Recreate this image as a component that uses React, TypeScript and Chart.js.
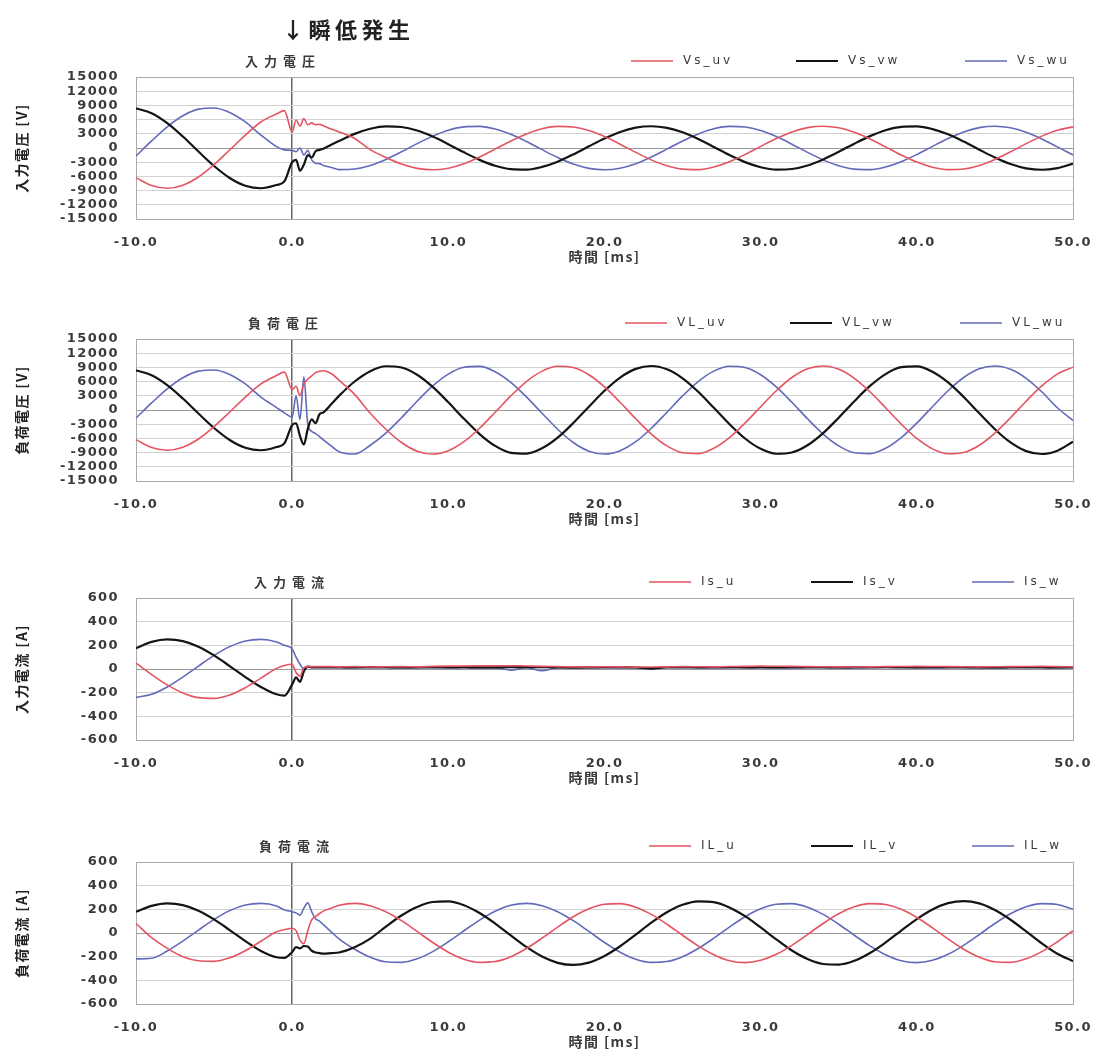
import React, { useEffect, useRef } from "react";
import { Chart, registerables } from "chart.js";

Chart.register(...registerables);

// ---------- data (time in ms) ----------
const timeMs = [
  -10, -9, -8, -7, -6, -5, -4, -3, -2, -1, -0.5,
  0, 0.25, 0.5, 0.75, 1, 1.25, 1.5, 1.75, 2, 2.5,
  3, 4, 5, 6, 7, 8, 9, 10, 11, 12, 13, 14, 15, 16, 17, 18, 19, 20, 21, 22, 23, 24, 25, 26,
  27, 28, 29, 30, 31, 32, 33, 34, 35, 36, 37, 38, 39, 40, 41, 42, 43, 44, 45, 46, 47, 48, 49, 50,
];

// 入力電圧 [V]
const vsUv = [
  -6270, -7940, -8500, -7860, -6120, -3520, -430, 2730, 5500, 7200, 7900,
  3400, 5900, 4600, 6200, 4900, 5300, 4900, 5000, 4700, 4000,
  3400, 2000, -350, -2010, -3390, -4300, -4600, -4260, -3310, -1910, -230, 1480, 2980, 4060, 4570, 4440,
  3690, 2420, 810, -920, -2510, -3760, -4470, -4560, -4000, -2890, -1370, 350, 2010, 3390, 4300, 4600,
  4260, 3310, 1910, 230, -1480, -2980, -4060, -4570, -4440, -3690, -2420, -810, 920, 2510, 3760, 4470,
];
const vsVw = [
  8400, 7340, 5250, 2420, -750, -3810, -6340, -7980, -8500, -7820, -7060,
  -3000, -2500, -4800, -3500, -1500, -2000, -700, -400, -150, 700,
  1480, 2980, 4060, 4570, 4440, 3690, 2420, 810, -920, -2510, -3760, -4470, -4560, -4000, -2890, -1370,
  350, 2010, 3390, 4300, 4600, 4260, 3310, 1910, 230, -1480, -2980, -4060, -4570, -4440, -3690, -2420,
  -810, 920, 2510, 3760, 4470, 4560, 4000, 2890, 1370, -350, -2010, -3390, -4300, -4600, -4260, -3310,
];
const vsWu = [
  -1700, 1490, 4460, 6810, 8210, 8450, 7500, 5500, 2730, 300, -400,
  -500, -800, 0, -1500, -500, -2500, -3200, -3300, -3700, -4100,
  -4570, -4440, -3690, -2420, -810, 920, 2510, 3760, 4470, 4560, 4000, 2890, 1370, -350, -2010, -3390,
  -4300, -4600, -4260, -3310, -1910, -230, 1480, 2980, 4060, 4570, 4440, 3690, 2420, 810, -920, -2510,
  -3760, -4470, -4560, -4000, -2890, -1370, 350, 2010, 3390, 4300, 4600, 4260, 3310, 1910, 230, -1480,
];

// 負荷電圧 [V]
const vlUv = [
  -6270, -7940, -8500, -7860, -6120, -3520, -430, 2730, 5500, 7300, 8000,
  4300, 5000, 3000, 5500, 6500, 7200, 7900, 8200, 8300, 7700,
  6300, 3300, -700, -4060, -6860, -8690, -9300, -8600, -6700, -3850, -470, 2980, 6020, 8210, 9240, 8980,
  7450, 4880, 1630, -1860, -5080, -7590, -9040, -9210, -8090, -5840, -2760, 700, 4060, 6860, 8690, 9300,
  8600, 6700, 3850, 470, -2980, -6020, -8210, -9240, -8980, -7450, -4880, -1630, 1860, 5080, 7590, 9040,
];
const vlVw = [
  8400, 7340, 5250, 2420, -750, -3810, -6340, -7980, -8500, -7820, -7060,
  -3200, -2800, -5500, -7300, -4000, -2000, -2800, -900, -500, 1200,
  2980, 6020, 8210, 9240, 8980, 7450, 4880, 1630, -1860, -5080, -7590, -9040, -9210, -8090, -5840, -2760,
  700, 4060, 6860, 8690, 9300, 8600, 6700, 3850, 470, -2980, -6020, -8210, -9240, -8980, -7450, -4880,
  -1630, 1860, 5080, 7590, 9040, 9210, 8090, 5840, 2760, -700, -4060, -6860, -8690, -9300, -8600, -6700,
];
const vlWu = [
  -1700, 1490, 4460, 6810, 8210, 8450, 7500, 5500, 2730, 500, -600,
  -1500, 3000, -2000, 7000, -3000, -4500, -5000, -5600, -6300, -7600,
  -8800, -9300, -7450, -4880, -1630, 1860, 5080, 7590, 9040, 9210, 8090, 5840, 2760, -700, -4060, -6860,
  -8690, -9300, -8600, -6700, -3850, -470, 2980, 6020, 8210, 9240, 8980, 7450, 4880, 1630, -1860, -5080,
  -7590, -9040, -9210, -8090, -5840, -2760, 700, 4060, 6860, 8690, 9300, 8600, 6700, 3850, 470, -2200,
];

// 入力電流 [A]
const isU = [
  50, -47, -134, -202, -242, -248, -219, -159, -77, 5, 30,
  40, -30, -60, 10, 20, 20, 20, 20, 20, 20,
  18, 20, 17, 19, 20, 18, 22, 24, 25, 26, 27, 28, 25, 22, 20, 18,
  17, 19, 18, 16, 17, 18, 20, 19, 18, 21, 22, 24, 23, 22, 20, 19,
  18, 17, 18, 20, 21, 22, 21, 20, 19, 18, 19, 20, 21, 22, 20, 19,
];
const isV = [
  176, 229, 250, 236, 189, 115, 25, -68, -152, -214, -225,
  -130, -70, -110, -20, 20, 15, 15, 15, 15, 15,
  15, 14, 16, 15, 13, 15, 16, 14, 15, 13, 14, 15, 16, 15, 14, 12,
  13, 15, 16, 14, 3, 15, 16, 14, 15, 16, 14, 15, 13, 15, 16, 15,
  14, 15, 16, 17, 15, 14, 15, 16, 15, 14, 13, 15, 16, 15, 14, 15,
];
const isW = [
  -240, -214, -152, -68, 25, 115, 189, 236, 250, 229, 200,
  170, 100, 40, 0, 20, 10, 10, 10, 10, 10,
  12, 10, 11, 12, 10, 9, 11, 12, 10, 8, 9, -10, 12, -15, 10, 11,
  12, 10, 9, 11, 10, 12, 11, 10, 9, 10, 11, 12, 10, 9, 10, 11,
  10, 9, 10, 11, 12, 10, 9, 10, 11, 10, 9, 10, 11, 10, 9, 10,
];

// 負荷電流 [A]
const ilU = [
  80, -40, -130, -200, -235, -240, -210, -150, -70, 10, 28,
  40, 20, -60, -90, 20, 110, 140, 165, 185, 210,
  234, 250, 231, 180, 104, 13, -80, -162, -221, -248, -241, -200, -131, -44, 50, 137,
  204, 243, 248, 218, 157, 74, -19, -109, -184, -234, -250, -231, -180, -104, -13, 80,
  162, 221, 248, 241, 200, 131, 44, -50, -137, -204, -243, -248, -218, -157, -74, 19,
];
const ilV = [
  179, 229, 250, 236, 189, 115, 25, -68, -152, -205, -210,
  -160, -120, -130, -110, -115, -150, -165, -170, -175, -170,
  -165, -120, -47, 54, 148, 220, 262, 267, 235, 169, 80, -20, -118, -199, -252, -270,
  -250, -194, -112, -14, 87, 175, 238, 268, 261, 216, 142, 47, -54, -148, -220, -262,
  -267, -235, -169, -80, 20, 118, 199, 252, 270, 250, 194, 112, 14, -87, -175, -238,
];
const ilW = [
  -219, -214, -152, -68, 25, 115, 189, 236, 250, 229, 195,
  180, 170, 150, 210, 255, 180, 120, 100, 70, 10,
  -50, -137, -204, -243, -248, -218, -157, -74, 19, 109, 184, 234, 250, 231, 180, 104,
  13, -80, -162, -221, -248, -241, -200, -131, -44, 50, 137, 204, 243, 248, 218, 157,
  74, -19, -109, -184, -234, -250, -231, -180, -104, -13, 80, 162, 221, 248, 241, 200,
];

const vsLabels = ["Vs_uv", "Vs_vw", "Vs_wu"];
const vlLabels = ["VL_uv", "VL_vw", "VL_wu"];
const isLabels = ["Is_u", "Is_v", "Is_w"];
const ilLabels = ["IL_u", "IL_v", "IL_w"];
const panelTitles = ["入力電圧", "負荷電圧", "入力電流", "負荷電流"];
const yTitles = ["入力電圧 [V]", "負荷電圧 [V]", "入力電流 [A]", "負荷電流 [A]"];
const xTitle = "時間 [ms]";
const eventNote = "↓瞬低発生";

// ---------- styling ----------
const COLORS = ["rgb(228,84,98)", "rgb(20,20,20)", "rgb(98,106,186)"];
const WIDTHS = [1.6, 2.2, 1.6];
const NUM_FONT = "'DejaVu Sans', 'Noto Sans CJK JP', sans-serif";
const JP_FONT = "'Noto Sans CJK JP', 'DejaVu Sans', sans-serif";
const TEXT = "#3a3a3a";
const BASE_SPACING = "1.4px";

const decorPlugin: any = {
  id: "panelDecor",
  beforeUpdate(chart: any) {
    chart.ctx.letterSpacing = BASE_SPACING;
  },
  beforeDraw(chart: any) {
    chart.ctx.letterSpacing = BASE_SPACING;
  },
  afterDraw(chart: any, _args: any, opts: any) {
    const ctx = chart.ctx;
    const area = chart.chartArea;
    ctx.save();
    const y = area.top - 16;
    // panel title
    ctx.letterSpacing = "6px";
    ctx.font = `bold 13px ${JP_FONT}`;
    ctx.fillStyle = TEXT;
    ctx.textAlign = "center";
    ctx.textBaseline = "middle";
    ctx.fillText(opts.title, opts.titleX, y);
    // legend
    ctx.letterSpacing = "3px";
    ctx.font = `12px ${NUM_FONT}`;
    ctx.textAlign = "left";
    chart.data.datasets.forEach((ds: any, i: number) => {
      const x = opts.legendX[i];
      ctx.strokeStyle = ds.borderColor;
      ctx.lineWidth = ds.borderWidth;
      ctx.beginPath();
      ctx.moveTo(x, y);
      ctx.lineTo(x + 42, y);
      ctx.stroke();
      ctx.fillText(ds.label, x + 52, y);
    });
    // event annotation
    if (opts.note) {
      ctx.letterSpacing = "4.5px";
      ctx.font = `bold 22px ${JP_FONT}`;
      ctx.fillStyle = "#222";
      ctx.textAlign = "left";
      ctx.fillText(opts.note, 282, 30);
    }
    ctx.restore();
  },
};

type PanelProps = {
  top: number;
  series: number[][];
  labels: string[];
  title: string;
  titleX: number;
  yTitle: string;
  yMin: number;
  yMax: number;
  yStep: number;
  legendX: number[];
  note?: string;
};

function Panel(p: PanelProps) {
  const ref = useRef<HTMLCanvasElement | null>(null);
  useEffect(() => {
    if (!ref.current) return;
    const tickFont = { family: NUM_FONT, size: 13, weight: "bold" };
    const chart = new Chart(ref.current, {
      type: "line",
      data: {
        datasets: p.series.map((vals, i) => ({
          label: p.labels[i],
          data: timeMs.map((t, j) => ({ x: t, y: vals[j] })),
          borderColor: COLORS[i],
          borderWidth: WIDTHS[i],
          pointRadius: 0,
          fill: false,
          cubicInterpolationMode: "monotone",
        })),
      },
      options: {
        responsive: false,
        animation: false,
        devicePixelRatio: 1,
        events: [],
        layout: { padding: { top: 77, right: 25, bottom: 0, left: 0 } },
        plugins: {
          legend: { display: false },
          title: { display: false },
          tooltip: { enabled: false },
          panelDecor: { title: p.title, titleX: p.titleX, legendX: p.legendX, note: p.note || "" },
        } as any,
        scales: {
          x: {
            type: "linear",
            min: -10,
            max: 50,
            ticks: {
              stepSize: 10,
              autoSkip: false,
              maxRotation: 0,
              padding: 16,
              color: TEXT,
              font: tickFont,
              callback: (v: any) => Number(v).toFixed(1),
            },
            grid: {
              drawTicks: false,
              color: (c: any) =>
                c.tick && c.tick.value === 0 ? "#666" : c.tick && c.tick.value === 50 ? "#aaa" : "rgba(0,0,0,0)",
              lineWidth: (c: any) => (c.tick && c.tick.value === 0 ? 1.5 : 1),
            },
            border: { display: true, color: "#aaa" },
            title: {
              display: true,
              text: xTitle,
              color: TEXT,
              font: { family: JP_FONT, size: 14, weight: "bold", lineHeight: 1 },
              padding: { top: 0, bottom: 0 },
            },
            afterFit: (s: any) => {
              s.height = 45;
              s.paddingLeft = 0;
              s.paddingRight = 0;
            },
          },
          y: {
            type: "linear",
            min: p.yMin,
            max: p.yMax,
            ticks: {
              stepSize: p.yStep,
              autoSkip: false,
              padding: 17,
              color: TEXT,
              font: tickFont,
              callback: (v: any) => String(v),
            },
            grid: {
              drawTicks: false,
              color: (c: any) => {
                const v = c.tick ? c.tick.value : 1;
                if (v === 0) return "#999";
                if (Math.abs(v) === p.yMax) return "#aaa";
                return "#d2d2d2";
              },
            },
            border: { display: true, color: "#aaa" },
            title: {
              display: true,
              text: p.yTitle,
              color: "#222",
              font: { family: JP_FONT, size: 14, weight: "bold", lineHeight: 1 },
              padding: { top: 15, bottom: 0 },
            },
            afterFit: (s: any) => {
              s.width = 136;
            },
          },
        },
      } as any,
      plugins: [decorPlugin],
    });
    return () => chart.destroy();
  }, []);
  return (
    <canvas
      ref={ref}
      width={1098}
      height={264}
      style={{ position: "absolute", left: 0, top: p.top, width: 1098, height: 264 }}
    />
  );
}

export default function App() {
  return (
    <div style={{ position: "absolute", left: 0, top: 0, width: 1098, height: 1055, background: "#fff", overflow: "hidden" }}>
      <Panel top={0} series={[vsUv, vsVw, vsWu]} labels={vsLabels} title={panelTitles[0]} titleX={283}
        yTitle={yTitles[0]} yMin={-15000} yMax={15000} yStep={3000} legendX={[631, 796, 965]} note={eventNote} />
      <Panel top={262} series={[vlUv, vlVw, vlWu]} labels={vlLabels} title={panelTitles[1]} titleX={286}
        yTitle={yTitles[1]} yMin={-15000} yMax={15000} yStep={3000} legendX={[625, 790, 960]} />
      <Panel top={521} series={[isU, isV, isW]} labels={isLabels} title={panelTitles[2]} titleX={292}
        yTitle={yTitles[2]} yMin={-600} yMax={600} yStep={200} legendX={[649, 811, 972]} />
      <Panel top={785} series={[ilU, ilV, ilW]} labels={ilLabels} title={panelTitles[3]} titleX={297}
        yTitle={yTitles[3]} yMin={-600} yMax={600} yStep={200} legendX={[649, 811, 972]} />
    </div>
  );
}
